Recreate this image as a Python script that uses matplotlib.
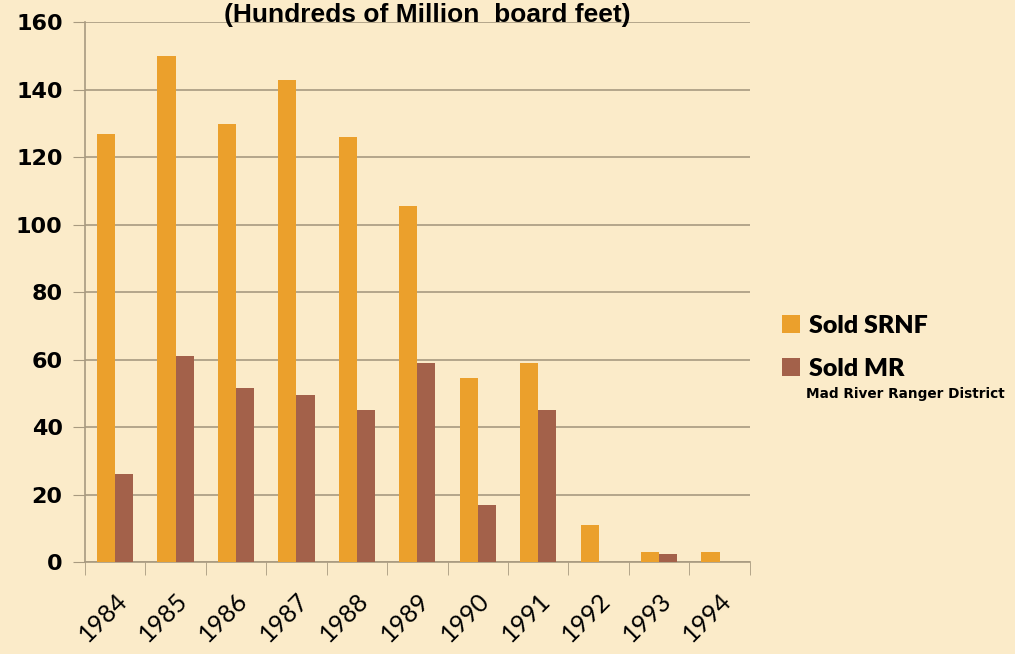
import numpy as np
import matplotlib
matplotlib.use("Agg")
import matplotlib.pyplot as plt

years = ['1984', '1985', '1986', '1987', '1988', '1989',
         '1990', '1991', '1992', '1993', '1994']
sold_srnf = [127, 150, 130, 143, 126, 105.5, 54.5, 59, 11, 3, 3]
sold_mr = [26, 61, 51.5, 49.5, 45, 59, 17, 45, 0, 2.3, 0]

bg = '#fbebc9'
orange = '#eba02c'
brown = '#a3614a'
grid_c = '#a89a80'

fig = plt.figure(figsize=(10.15, 6.54), dpi=100, facecolor=bg)
ax = fig.add_axes([0.0837, 0.1407, 0.655, 0.825])
ax.set_facecolor(bg)

x = np.arange(len(years))
w = 0.3
b1 = ax.bar(x - w / 2, sold_srnf, w, color=orange, label='Sold SRNF', zorder=3)
b2 = ax.bar(x + w / 2, sold_mr, w, color=brown, label='Sold MR', zorder=3)

ax.set_xlim(-0.5, len(years) - 0.5)
ax.set_ylim(0, 160)
ax.set_yticks(np.arange(0, 161, 20))
ax.yaxis.grid(True, color=grid_c, lw=1.2, zorder=0)
ax.tick_params(axis='y', length=9, color=grid_c, pad=7, labelsize=16)
for t in ax.get_yticklabels():
    t.set_fontweight('bold')
    t.set_family('DejaVu Sans')

ax.set_xticks(x)
ax.set_xticklabels(years, rotation=45, ha='right', rotation_mode='anchor',
                   fontsize=18, family='Lato')
ax.set_xticks(np.arange(-0.5, len(years)), minor=True)
ax.tick_params(axis='x', which='major', length=0, pad=19)
ax.tick_params(axis='x', which='minor', length=9, color=grid_c)

for s in ['top', 'right']:
    ax.spines[s].set_visible(False)
for s in ['left', 'bottom']:
    ax.spines[s].set_color(grid_c)
    ax.spines[s].set_linewidth(1.2)

fig.text(427 / 1015, 1 - 15 / 654, '(Hundreds of Million  board feet)', ha='center',
         va='center', fontsize=19, fontweight='bold', family='Liberation Sans')

leg = fig.legend(handles=[b1, b2], loc='upper left',
                 bbox_to_anchor=(759 / 1015, 1 - 292 / 654), frameon=False,
                 handlelength=0.75, handleheight=0.75, handletextpad=0.35,
                 labelspacing=0.85, prop={'family': 'Lato', 'weight': 'heavy', 'size': 18})

fig.text(806 / 1015, 1 - 394 / 654, 'Mad River Ranger District', ha='left',
         va='center', fontsize=9.8, fontweight='bold', family='DejaVu Sans')

fig.savefig('out.png', dpi=100, facecolor=bg)
